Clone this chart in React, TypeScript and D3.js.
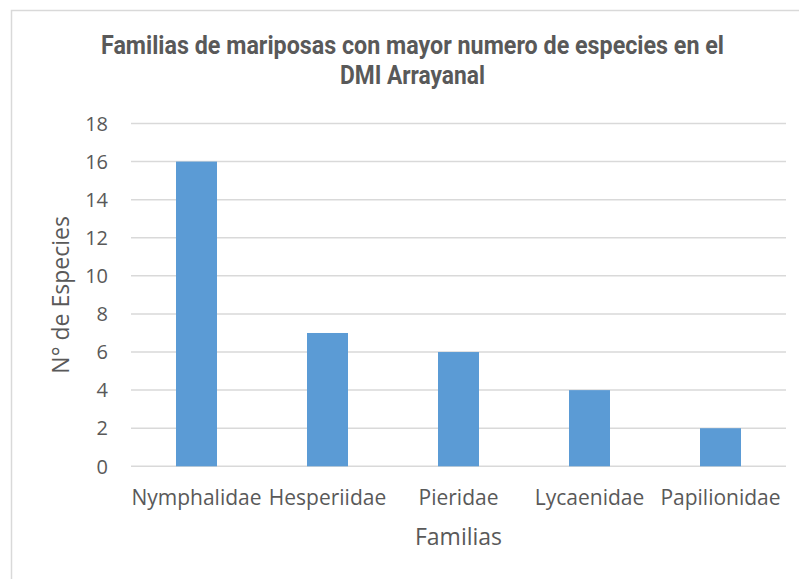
import React from "react";
import * as d3 from "d3";

// Data
const familias = ["Nymphalidae", "Hesperiidae", "Pieridae", "Lycaenidae", "Papilionidae"];
const especies = [16, 7, 6, 4, 2];
const yTicks = [0, 2, 4, 6, 8, 10, 12, 14, 16, 18];
const titleLines = ["Familias de mariposas con mayor numero de especies en el", "DMI Arrayanal"];
const titleWidths = [623, 145];

// Dimensions
const W = 799;
const H = 579;
const plot = { left: 131, right: 786, top: 123.5, bottom: 466.3 };

const textColour = "#595959";
const gridColour = "#D9D9D9";
const barColour = "#5B9BD5";
const bodyFont = "'Open Sans', 'Noto Sans', sans-serif";

const App = () => {
  const x = d3
    .scaleBand<string>()
    .domain(familias)
    .range([plot.left, plot.right])
    .paddingInner(0.687)
    .paddingOuter(0.3435);

  const y = d3.scaleLinear().domain([0, 18]).range([plot.bottom, plot.top]);

  return (
    <svg
      width={W}
      height={H}
      style={{ position: "absolute", left: 0, top: 0, background: "#fff" }}
    >
      {/* chart border */}
      <rect x={11.5} y={10.5} width={W} height={H} fill="#fff" stroke={gridColour} strokeWidth={1.5} />

      {/* title */}
      <g
        fill={textColour}
        fontFamily="Roboto, 'Liberation Sans', sans-serif"
        fontWeight="bold"
        fontSize={26}
        textAnchor="middle"
      >
        {titleLines.map((t, i) => (
          <text
            key={i}
            x={412.5}
            y={54 + i * 30}
            textLength={titleWidths[i]}
            lengthAdjust="spacingAndGlyphs"
          >
            {t}
          </text>
        ))}
      </g>

      {/* gridlines + y tick labels */}
      {yTicks.map((t) => (
        <g key={t}>
          <line x1={plot.left} x2={plot.right} y1={y(t)} y2={y(t)} stroke={gridColour} strokeWidth={1.5} />
          <text
            x={108}
            y={y(t)}
            dy="0.36em"
            textAnchor="end"
            fill={textColour}
            fontFamily={bodyFont}
            fontSize={20}
          >
            {t}
          </text>
        </g>
      ))}

      {/* bars */}
      {familias.map((f, i) => (
        <rect
          key={f}
          x={x(f)}
          y={y(especies[i])}
          width={x.bandwidth()}
          height={y(0) - y(especies[i])}
          fill={barColour}
        />
      ))}

      {/* category labels */}
      {familias.map((f) => (
        <text
          key={f}
          x={(x(f) ?? 0) + x.bandwidth() / 2}
          y={505}
          textAnchor="middle"
          fill={textColour}
          fontFamily={bodyFont}
          fontSize={21}
        >
          {f}
        </text>
      ))}

      {/* axis titles */}
      <text
        x={(plot.left + plot.right) / 2}
        y={545}
        textAnchor="middle"
        fill={textColour}
        fontFamily={bodyFont}
        fontSize={23}
      >
        Familias
      </text>
      <text
        transform={`translate(69, ${(plot.top + plot.bottom) / 2}) rotate(-90)`}
        textAnchor="middle"
        fill={textColour}
        fontFamily={bodyFont}
        fontSize={23}
      >
        N° de Especies
      </text>
    </svg>
  );
};

export default App;
